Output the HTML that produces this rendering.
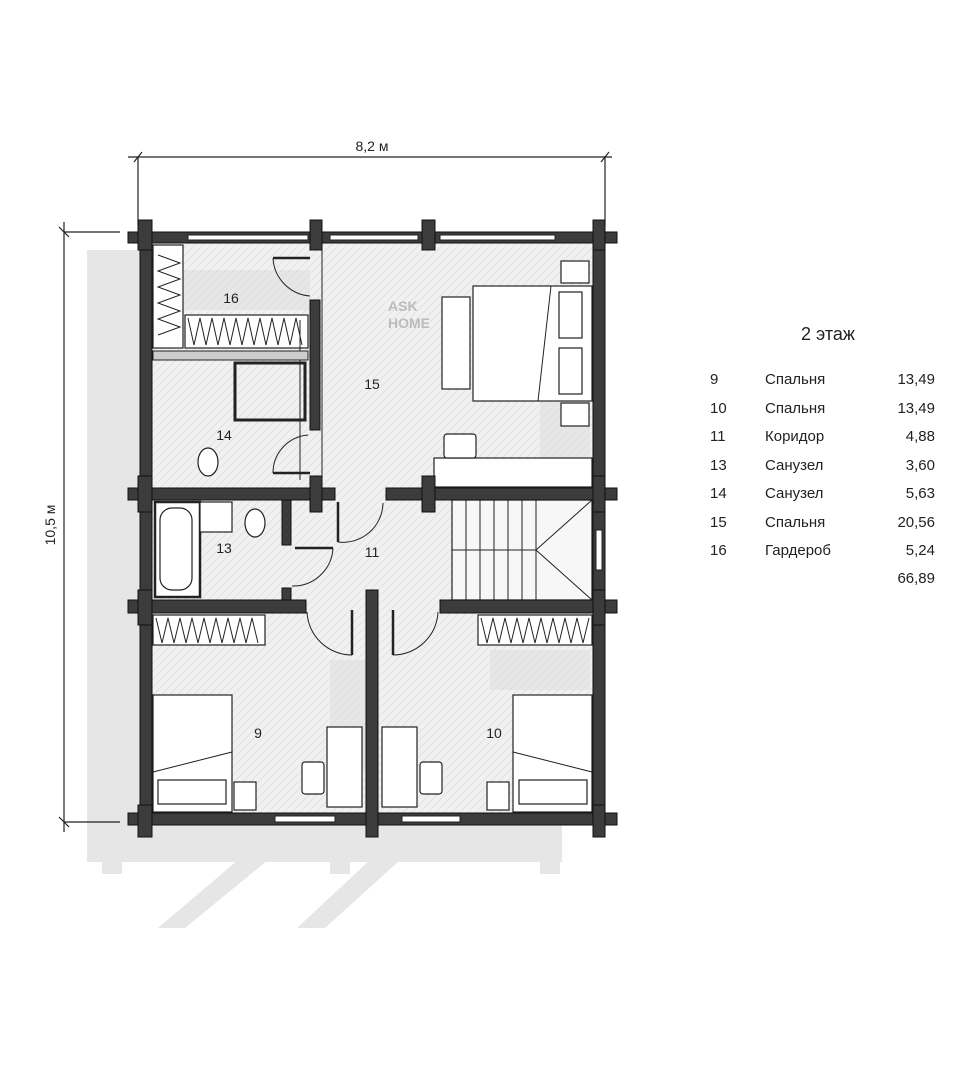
<!DOCTYPE html>
<html><head><meta charset="utf-8"><style>
html,body{margin:0;padding:0;background:#fff;}
svg{display:block;}
text{font-family:"Liberation Sans",sans-serif;fill:#222;}
</style></head><body>
<svg width="973" height="1080" viewBox="0 0 973 1080" xmlns="http://www.w3.org/2000/svg">
<defs>
<pattern id="hb" width="8" height="8" patternUnits="userSpaceOnUse">
<rect width="8" height="8" fill="#f1f1f1"/>
<path d="M0 8L8 0M-2 2L2 -2M6 10L10 6" stroke="#e2e2e2" stroke-width="1"/>
</pattern>
</defs>
<!-- shadow -->
<g fill="#e6e6e6">
<rect x="87" y="250" width="475" height="612"/>
<polygon points="238,860 268,860 185,928 158,928"/>
<polygon points="370,860 400,860 325,928 297,928"/>
<rect x="102" y="860" width="20" height="14"/>
<rect x="330" y="860" width="20" height="14"/>
<rect x="540" y="860" width="20" height="14"/>
</g>
<!-- floor -->
<rect x="150" y="242" width="444" height="572" fill="url(#hb)"/>
<g fill="#e0e0e0" opacity="0.6">
<rect x="170" y="270" width="140" height="40"/>
<rect x="540" y="380" width="50" height="80"/>
<rect x="330" y="660" width="40" height="110"/>
<rect x="490" y="650" width="100" height="40"/>
</g>
<!-- dimensions -->
<g stroke="#222" stroke-width="1.2" fill="none">
<line x1="128" y1="157" x2="612" y2="157"/>
<line x1="138" y1="157" x2="138" y2="225"/>
<line x1="605" y1="157" x2="605" y2="225"/>
<line x1="134" y1="162" x2="142" y2="152"/>
<line x1="601" y1="162" x2="609" y2="152"/>
<line x1="64" y1="222" x2="64" y2="832"/>
<line x1="64" y1="232" x2="120" y2="232"/>
<line x1="64" y1="822" x2="120" y2="822"/>
<line x1="59" y1="227" x2="69" y2="237"/>
<line x1="59" y1="817" x2="69" y2="827"/>
</g>
<text x="372" y="151" font-size="14" text-anchor="middle">8,2 м</text>
<text x="55" y="525" font-size="14" text-anchor="middle" transform="rotate(-90 55 525)">10,5 м</text>
<!-- furniture -->
<g fill="#fff" stroke="#222" stroke-width="1.2">
<rect x="153" y="245" width="30" height="103"/>
<rect x="185" y="315" width="123" height="33"/>
<rect x="153" y="615" width="112" height="30"/>
<rect x="478" y="615" width="114" height="30"/>
<rect x="235" y="363" width="70" height="57" stroke-width="3" fill="none"/>
<rect x="155" y="502" width="45" height="95" stroke-width="2.5"/>
<rect x="160" y="508" width="32" height="82" rx="12"/>
<rect x="200" y="502" width="32" height="30"/>
<ellipse cx="255" cy="523" rx="10" ry="14"/>
<ellipse cx="208" cy="462" rx="10" ry="14"/>
<rect x="473" y="286" width="119" height="115"/>
<rect x="442" y="297" width="28" height="92"/>
<rect x="561" y="261" width="28" height="22"/>
<rect x="561" y="403" width="28" height="23"/>
<rect x="559" y="292" width="23" height="46"/>
<rect x="559" y="348" width="23" height="46"/>
<rect x="434" y="458" width="158" height="29"/>
<rect x="444" y="434" width="32" height="24" rx="3"/>
<rect x="153" y="695" width="79" height="117"/>
<rect x="158" y="780" width="68" height="24"/>
<rect x="234" y="782" width="22" height="28"/>
<rect x="327" y="727" width="35" height="80"/>
<rect x="302" y="762" width="22" height="32" rx="3"/>
<rect x="382" y="727" width="35" height="80"/>
<rect x="420" y="762" width="22" height="32" rx="3"/>
<rect x="513" y="695" width="79" height="117"/>
<rect x="519" y="780" width="68" height="24"/>
<rect x="487" y="782" width="22" height="28"/>
<rect x="452" y="500" width="140" height="100" fill="#f7f7f7"/>
</g>
<g stroke="#222" stroke-width="1" fill="none">
<line x1="153" y1="772" x2="232" y2="752"/>
<line x1="513" y1="752" x2="592" y2="772"/>
<line x1="551" y1="286" x2="538" y2="401"/>
<path d="M466 500V600M480 500V600M494 500V600M508 500V600M522 500V600M536 500V600M536 550L592 500M536 550L592 600M452 550H536"/>
<path d="M158 255l22 8l-22 8l22 8l-22 8l22 8l-22 8l22 8l-22 8l22 8l-22 8"/>
<path d="M188 318l6 27l6 -27l6 27l6 -27l6 27l6 -27l6 27l6 -27l6 27l6 -27l6 27l6 -27l6 27l6 -27l6 27l6 -27l6 27l6 -27l6 27"/>
<path d="M156 618l6 25l6 -25l6 25l6 -25l6 25l6 -25l6 25l6 -25l6 25l6 -25l6 25l6 -25l6 25l6 -25l6 25l6 -25l6 25"/>
<path d="M481 618l6 25l6 -25l6 25l6 -25l6 25l6 -25l6 25l6 -25l6 25l6 -25l6 25l6 -25l6 25l6 -25l6 25l6 -25l6 25l6 -25"/>
<path d="M273 258A40 40 0 0 0 310 296"/><line x1="273" y1="258" x2="310" y2="258" stroke-width="2.5"/>
<path d="M273 473A38 38 0 0 1 308 435"/><line x1="273" y1="473" x2="310" y2="473" stroke-width="2.5"/>
<path d="M338 542A40 40 0 0 0 383 503"/><line x1="338" y1="502" x2="338" y2="542" stroke-width="2.5"/>
<path d="M292 586A40 40 0 0 0 333 548"/><line x1="295" y1="548" x2="333" y2="548" stroke-width="2.5"/>
<path d="M307 612A45 45 0 0 0 352 655"/><line x1="352" y1="610" x2="352" y2="655" stroke-width="2.5"/>
<path d="M438 612A45 45 0 0 1 393 655"/><line x1="393" y1="610" x2="393" y2="655" stroke-width="2.5"/>
<line x1="300" y1="320" x2="300" y2="480"/>
<line x1="322" y1="250" x2="322" y2="480"/>
</g>
<!-- walls -->
<g fill="#3c3c3c" stroke="#111" stroke-width="1">
<rect x="128" y="232" width="489" height="11"/>
<rect x="128" y="813" width="489" height="12"/>
<rect x="140" y="232" width="12" height="593"/>
<rect x="593" y="232" width="12" height="593"/>
<rect x="128" y="488" width="207" height="12"/>
<rect x="386" y="488" width="231" height="12"/>
<rect x="128" y="600" width="178" height="13"/>
<rect x="440" y="600" width="177" height="13"/>
<rect x="366" y="590" width="12" height="247"/>
<rect x="310" y="300" width="10" height="130"/>
<rect x="138" y="220" width="14" height="30"/><rect x="310" y="220" width="12" height="30"/>
<rect x="422" y="220" width="13" height="30"/><rect x="593" y="220" width="12" height="30"/>
<rect x="138" y="476" width="14" height="36"/><rect x="310" y="476" width="12" height="36"/>
<rect x="422" y="476" width="13" height="36"/><rect x="593" y="476" width="12" height="36"/>
<rect x="138" y="590" width="14" height="35"/><rect x="593" y="590" width="12" height="35"/>
<rect x="138" y="805" width="14" height="32"/><rect x="593" y="805" width="12" height="32"/>
<rect x="282" y="500" width="9" height="45"/><rect x="282" y="588" width="9" height="12"/>
</g>
<g fill="#fff" stroke="#222" stroke-width="1">
<rect x="188" y="235" width="120" height="5"/><rect x="330" y="235" width="88" height="5"/>
<rect x="440" y="235" width="115" height="5"/>
<rect x="275" y="816" width="60" height="6"/><rect x="402" y="816" width="58" height="6"/>
<rect x="596" y="530" width="6" height="40"/>
<rect x="153" y="351" width="155" height="9" fill="#ccc"/>
</g>
<text x="388" y="311" font-size="14" style="fill:#bbb" font-weight="bold">ASK</text>
<text x="388" y="328" font-size="14" style="fill:#bbb" font-weight="bold">HOME</text>
<g font-size="14" text-anchor="middle">
<text x="231" y="303">16</text><text x="372" y="389">15</text>
<text x="224" y="440">14</text><text x="224" y="553">13</text>
<text x="372" y="557">11</text><text x="258" y="738">9</text>
<text x="494" y="738">10</text>
</g>
<text x="828" y="340" font-size="18" text-anchor="middle">2 этаж</text>
<g font-size="15">
<text x="710" y="384">9</text><text x="765" y="384">Спальня</text><text x="935" y="384" text-anchor="end">13,49</text>
<text x="710" y="413">10</text><text x="765" y="413">Спальня</text><text x="935" y="413" text-anchor="end">13,49</text>
<text x="710" y="441">11</text><text x="765" y="441">Коридор</text><text x="935" y="441" text-anchor="end">4,88</text>
<text x="710" y="470">13</text><text x="765" y="470">Санузел</text><text x="935" y="470" text-anchor="end">3,60</text>
<text x="710" y="498">14</text><text x="765" y="498">Санузел</text><text x="935" y="498" text-anchor="end">5,63</text>
<text x="710" y="527">15</text><text x="765" y="527">Спальня</text><text x="935" y="527" text-anchor="end">20,56</text>
<text x="710" y="555">16</text><text x="765" y="555">Гардероб</text><text x="935" y="555" text-anchor="end">5,24</text>
<text x="935" y="583" text-anchor="end">66,89</text>
</g>
</svg>
</body></html>
